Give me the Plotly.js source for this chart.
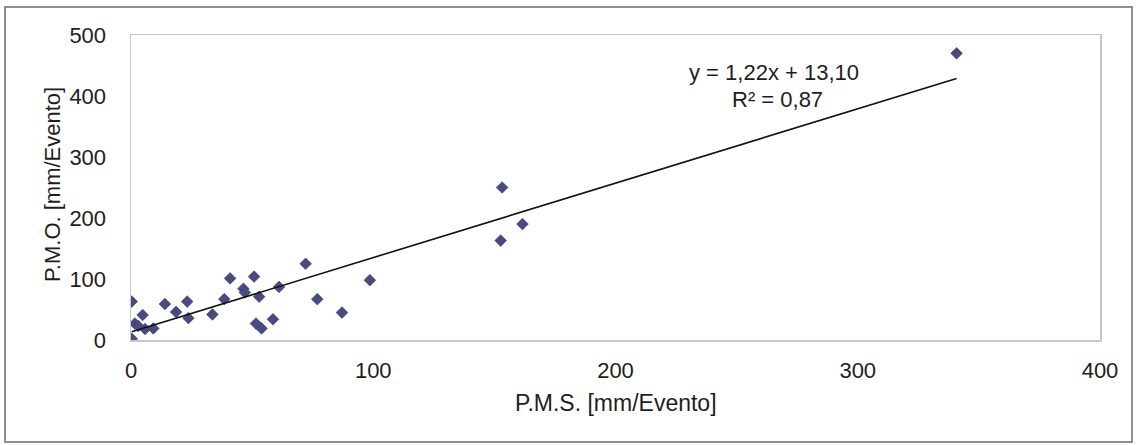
<!DOCTYPE html>
<html><head><meta charset="utf-8">
<script src="https://cdn.plot.ly/plotly-3.0.1.min.js"></script>
<style>html,body{margin:0;padding:0;background:#fff}#chart{width:1136px;height:445px}</style>
</head><body><div id="chart"></div>
<script>
// Data
const pms = [0.3, 0.3, 4.8, 1.6, 3.0, 5.8, 9.2, 14.0, 18.6, 23.2, 23.7, 33.6, 38.5, 40.9, 46.4, 47.0, 50.8, 52.9, 51.6, 53.9, 58.6, 61.1, 72.1, 76.9, 87.1, 98.6, 153.2, 152.6, 161.6, 340.8];
const pmo = [63, 2, 41, 27, 23, 18, 19, 59, 46, 63, 36, 42, 67, 101, 84, 78, 104, 71, 27, 19, 34, 87, 125, 67, 45, 98, 250, 163, 190, 470];
const slope = 1.22, intercept = 13.10;
const eqText = "y = 1,22x + 13,10";
const r2Text = "R² = 0,87";
const xTitle = "P.M.S. [mm/Evento]";
const yTitle = "P.M.O. [mm/Evento]";
const xTicks = [0, 100, 200, 300, 400];
const yTicks = [0, 100, 200, 300, 400, 500];

const xmin = Math.min(...pms), xmax = Math.max(...pms);
const trendX = [xmin, xmax];
const trendY = trendX.map(v => slope * v + intercept);

const fam = "Liberation Sans, Arial, sans-serif";
const font = {family: fam, size: 22, color: "#1e1e1e"};
const W = 969, H = 305, L = 131, T = 35;
const px = x => (x - L) / W, py = y => (T + H - y) / H;

const data = [
  {x: pms, y: pmo, type: "scatter", mode: "markers",
   marker: {symbol: "diamond", size: 9, color: "#4a4a82", line: {width: 0.6, color: "#3a3a66"}}, showlegend: false},
  {x: trendX, y: trendY, type: "scatter", mode: "lines",
   line: {color: "#111", width: 1.6}, showlegend: false}
];
const layout = {
  width: 1136, height: 445,
  margin: {l: L, r: 1136 - L - W, t: T, b: 445 - T - H, pad: 0},
  paper_bgcolor: "#fff", plot_bgcolor: "#fff",
  font: font,
  xaxis: {range: [0, 400], tickvals: xTicks, showgrid: false, zeroline: false,
          showline: true, linecolor: "#c8c8c8", linewidth: 1.5, mirror: true,
          ticks: "", ticklabelstandoff: 10, tickfont: font},
  yaxis: {range: [0, 500], tickvals: yTicks, showgrid: false, zeroline: false,
          showline: true, linecolor: "#c8c8c8", linewidth: 1.5, mirror: true,
          ticks: "", ticklabelstandoff: 19, tickfont: font},
  annotations: [
    {text: eqText, xref: "paper", yref: "paper", x: px(774), y: py(72), showarrow: false, font: font, xanchor: "center", yanchor: "middle"},
    {text: r2Text, xref: "paper", yref: "paper", x: px(777), y: py(99), showarrow: false, font: font, xanchor: "center", yanchor: "middle"},
    {text: xTitle, xref: "paper", yref: "paper", x: px(616), y: py(403), showarrow: false, font: Object.assign({}, font, {size: 23}), xanchor: "center", yanchor: "middle"},
    {text: yTitle, xref: "paper", yref: "paper", x: px(52), y: py(185), showarrow: false, font: font, textangle: -90, xanchor: "center", yanchor: "middle"}
  ],
  shapes: [
    {type: "rect", xref: "paper", yref: "paper", x0: px(5), x1: px(1132), y0: py(7), y1: py(442),
     line: {color: "#8f8f8f", width: 2}, fillcolor: "rgba(0,0,0,0)", layer: "below"}
  ]
};
Plotly.newPlot("chart", data, layout, {displayModeBar: false, staticPlot: true});
</script></body></html>
